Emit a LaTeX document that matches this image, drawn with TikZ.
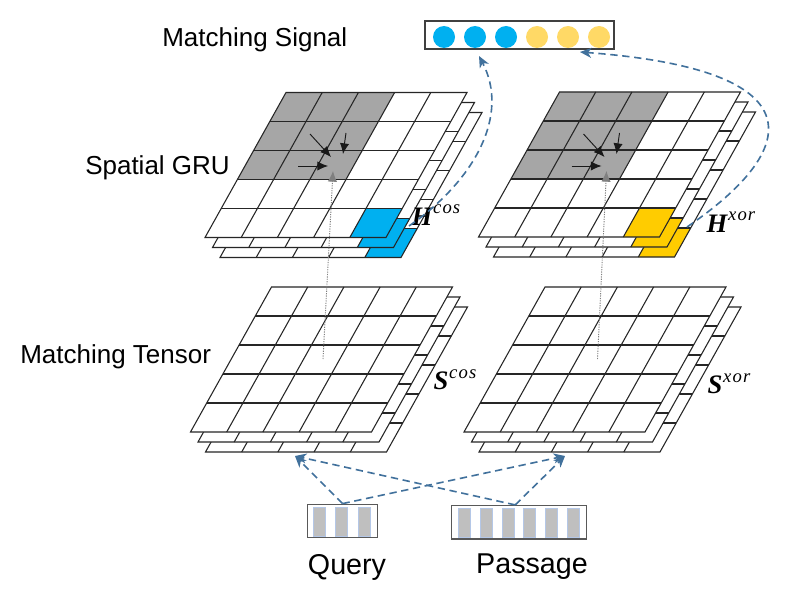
\documentclass[tikz,border=0pt]{standalone}
\usepackage{fontspec}
\setmainfont{Liberation Sans}
\newfontfamily\lblserif{Liberation Serif}
\usetikzlibrary{arrows.meta}
\definecolor{connblue}{RGB}{65,113,156}
\definecolor{cellgray}{RGB}{166,166,166}
\definecolor{cellblue}{RGB}{0,176,240}
\definecolor{cellyellow}{RGB}{255,204,0}
\definecolor{sigyellow}{RGB}{255,217,102}
\definecolor{bargray}{RGB}{191,191,191}
\definecolor{barblue}{RGB}{180,199,231}
\definecolor{boxgray}{RGB}{89,89,89}
\newcommand{\glayer}[3]{%
  \def\glx{#1}\def\gly{#2}%
  \fill[white] (\glx,\gly) -- ++(181,0) -- ++(-81,145) -- ++(-181,0) -- cycle;
  #3
  \foreach \k in {1,...,4}{
    \draw[gridline] ({\glx-16.2*\k},{\gly+29*\k}) -- ++(181,0);
    \draw[gridline] ({\glx+36.2*\k},\gly) -- ++(-81,145);
  }
  \draw[gridline] (\glx,\gly) -- ++(181,0) -- ++(-81,145) -- ++(-181,0) -- cycle;
}
\newcommand{\gcell}[3]{%
  \fill[#3] ({\glx+36.2*#1-16.2*#2},{\gly+29*#2}) -- ++(36.2,0) -- ++(-16.2,29) -- ++(-36.2,0) -- cycle;
}
\newcommand{\mlab}[2]{{\lblserif\fontsize{20}{22}\selectfont\bfseries\itshape #1}\kern0.5pt\raisebox{8.5pt}{\lblserif\fontsize{14}{16}\selectfont\itshape\addfontfeature{LetterSpace=6} #2}}
\begin{document}
\begin{tikzpicture}[x=0.75pt,y=-0.75pt,
  gridline/.style={draw=black!85, line width=0.8pt},
  conn/.style={draw=connblue, line width=1.2pt, dash pattern=on 5.5pt off 3.5pt, -{Stealth[length=8.5pt,width=7.5pt,inset=2.5pt]}},
  garrow/.style={draw=black!90, line width=0.7pt, -{Latex[length=8pt,width=7pt]}},
  dotl/.style={draw=gray, line width=0.7pt, dash pattern=on 0.9pt off 0.9pt, -{Latex[length=8pt,width=7pt,color=gray]}},
  lbl/.style={font=\fontsize{19.5}{23}\selectfont, inner sep=0pt, anchor=west},
  qlbl/.style={font=\fontsize{21.5}{25}\selectfont, inner sep=0pt},
  mlbl/.style={inner sep=0pt},
  bar/.style={fill=bargray, draw=barblue, line width=0.7pt},
  sigdot/.style={circle, minimum size=16.5pt, inner sep=0pt},
  ]
\useasboundingbox[fill=white] (0,0) rectangle (792,592);

% ---------- matching tensors ----------
\glayer{286.5}{307}{}
\glayer{279}{297}{}
\glayer{271.5}{287}{}
\glayer{560}{307}{}
\glayer{552.5}{297}{}
\glayer{545}{287}{}

% ---------- spatial GRU layers ----------
\glayer{301}{112.5}{\gcell{4}{4}{cellblue}}
\glayer{293.5}{102.5}{\gcell{4}{4}{cellblue}}
\glayer{286}{92.5}{\foreach \c in {0,1,2}{\foreach \r in {0,1,2}{\gcell{\c}{\r}{cellgray}}}\gcell{4}{4}{cellblue}}
\glayer{574.5}{112}{\gcell{4}{4}{cellyellow}}
\glayer{567}{102}{\gcell{4}{4}{cellyellow}}
\glayer{559.5}{92}{\foreach \c in {0,1,2}{\foreach \r in {0,1,2}{\gcell{\c}{\r}{cellgray}}}\gcell{4}{4}{cellyellow}}

% ---------- labels ----------
\node[lbl] (ms) at (162,40) {Matching Signal};
\node[lbl] (sg) at (85,168) {Spatial GRU};
\node[lbl] (mt) at (20,357) {Matching Tensor};
\node[mlbl] (hc) at (436,215) {\mlab{H}{cos}};
\node[mlbl] (hx) at (731,222) {\mlab{H}{xor}};
\node[mlbl] (sc) at (455,380) {\mlab{S}{cos}};
\node[mlbl] (sx) at (729,384) {\mlab{S}{xor}};
\node[qlbl] (ql) at (347,567) {Query};
\node[qlbl] (pl) at (532,567) {Passage};

% ---------- matching signal ----------
\node[draw=black!75, line width=1.5pt, fill=white, minimum width=141.75pt, minimum height=21pt, inner sep=0pt] (sig) at (519.5,35) {};
\node[sigdot, fill=cellblue] (d1) at (444,37) {};
\node[sigdot, fill=cellblue] (d2) at (475,37) {};
\node[sigdot, fill=cellblue] (d3) at (506,37) {};
\node[sigdot, fill=sigyellow] (d4) at (537,37) {};
\node[sigdot, fill=sigyellow] (d5) at (568,37) {};
\node[sigdot, fill=sigyellow] (d6) at (599,37) {};

% ---------- query / passage ----------
\node[draw=boxgray, line width=1.1pt, minimum width=52.8pt, minimum height=25pt, inner sep=0pt] (query) at (342.5,521) {};
\foreach \i in {0,1,2} \draw[bar] ({313+22.5*\i},507) rectangle ++(12,29);
\node[draw=boxgray, line width=1.1pt, minimum width=101.25pt, minimum height=25pt, inner sep=0pt] (passage) at (519.2,522.3) {};
\foreach \i in {0,...,5} \draw[bar] ({458.5+21.8*\i},508.5) rectangle ++(12,29);

% ---------- coordinates ----------
\coordinate (hcs) at (409,226);
\coordinate (hxs) at (687,227);
\coordinate (sin1) at (479,56);
\coordinate (sin2) at (580,52);
\coordinate (tin1) at (295,456);
\coordinate (tin2) at (565,456);
\coordinate (ps) at ([xshift=-3pt]passage.north);
\coordinate (dc1) at (323,359);
\coordinate (dt1) at (333,171);
\coordinate (dc2) at (597.5,359);
\coordinate (dt2) at (606.5,171);

% ---------- GRU arrows ----------
\draw[garrow] (298,166) -- (328,166);
\draw[garrow] (310,134) -- (331,157);
\draw[garrow] (346,133) -- (343,154);
\draw[garrow] (571.5,166) -- (601.5,166);
\draw[garrow] (583.5,134) -- (604.5,157);
\draw[garrow] (619.5,133) -- (616.5,154);
\draw[dotl] (dc1) -- (dt1);
\draw[dotl] (dc2) -- (dt2);

% ---------- dashed connectors ----------
\draw[conn] (hcs) .. controls (475,180) and (510,115) .. (sin1);
\draw[conn] (hxs) .. controls (800,150) and (820,70) .. (sin2);
\draw[conn] (query.north) -- (tin1);
\draw[conn] (query.north) -- (tin2);
\draw[conn] (ps) -- (tin1);
\draw[conn] (ps) -- (tin2);
\end{tikzpicture}
\end{document}
